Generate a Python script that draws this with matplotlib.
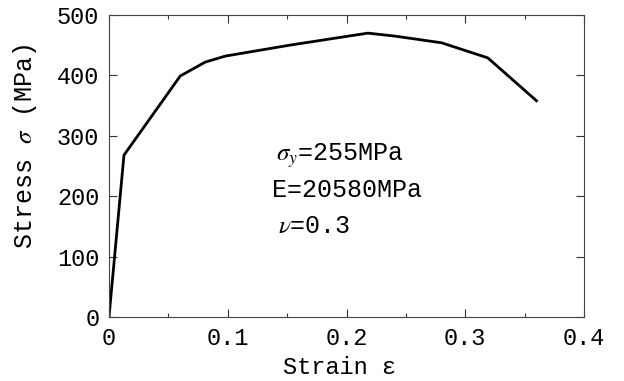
import matplotlib
matplotlib.use("Agg")
import matplotlib.pyplot as plt
from matplotlib.ticker import MultipleLocator

# stress-strain curve
strain = [0.0, 0.0126, 0.060, 0.081, 0.098, 0.152, 0.218, 0.241, 0.280, 0.319, 0.360]
stress = [0, 268, 399, 422, 432, 450, 470, 465, 454, 429, 358]

x_ticks = [0, 0.1, 0.2, 0.3, 0.4]
x_labels = ["0", "0.1", "0.2", "0.3", "0.4"]
y_ticks = [0, 100, 200, 300, 400, 500]

FS = 17
FS_NOTE = 18

plt.rcParams["font.family"] = ["Liberation Mono", "DejaVu Sans Mono"]
plt.rcParams["mathtext.fontset"] = "stix"

fig = plt.figure(figsize=(6.24, 3.81), dpi=100)
ax = fig.add_axes([109 / 624, 1 - 317 / 381, 475 / 624, 302 / 381])

ax.plot(strain, stress, color="black", lw=2.0, solid_joinstyle="miter")

ax.set_xlim(0, 0.4)
ax.set_ylim(0, 500)
ax.set_xticks(x_ticks)
ax.set_xticklabels(x_labels)
ax.set_yticks(y_ticks)
ax.xaxis.set_minor_locator(MultipleLocator(0.05))
ax.tick_params(which="both", direction="in", top=True, right=True,
               labelsize=FS, color="#333333")
ax.tick_params(which="major", length=6, width=0.8)
ax.tick_params(which="minor", length=3, width=0.8)
ax.tick_params(axis="y", pad=7)
ax.tick_params(axis="x", pad=7)
for s in ax.spines.values():
    s.set_linewidth(0.8)
    s.set_color("#444444")

ax.set_xlabel("Strain \u03b5", fontsize=FS, va="center")
ax.xaxis.set_label_coords(0.486, -0.168)
ax.set_ylabel("Stress $\\sigma$ (MPa)", fontsize=18, va="center")
ax.yaxis.set_label_coords(-0.177, 0.566)

ax.text(0.141, 268, "$\\sigma_{y}$=255MPa", fontsize=FS_NOTE, va="center")
ax.text(0.137, 210, "E=20580MPa", fontsize=FS_NOTE, va="center")
ax.text(0.142, 151, "$\\nu$=0.3", fontsize=FS_NOTE, va="center")

fig.savefig("out.png", dpi=100)
